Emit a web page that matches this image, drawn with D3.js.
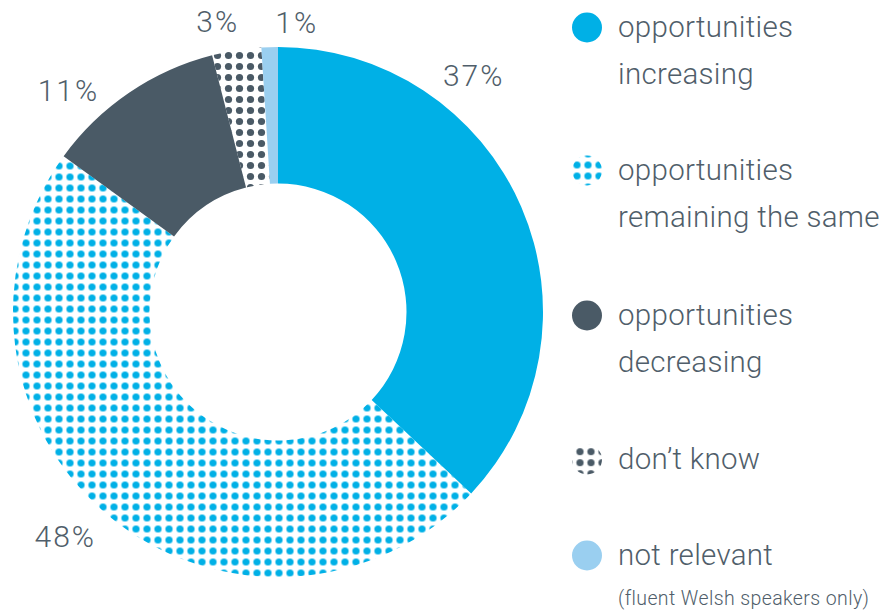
<!DOCTYPE html>
<html>
<head>
<meta charset="utf-8">
<script src="https://cdn.jsdelivr.net/npm/d3@7/dist/d3.min.js"></script>
<style>
  html, body { margin: 0; padding: 0; background: #fff; }
  svg { display: block; }
  text { font-family: Roboto, "Liberation Sans", sans-serif; font-weight: 300; fill: #505e6a; }
</style>
</head>
<body>
<svg id="chart" width="889" height="614"></svg>
<script>
// Outlook for opportunities (share of respondents, %)
const categories = [
  "opportunities increasing",
  "opportunities remaining the same",
  "opportunities decreasing",
  "don’t know",
  "not relevant"
];
const values = [37, 48, 11, 3, 1];
const valueLabels = ["37%", "48%", "11%", "3%", "1%"];
const legendLines = [
  ["opportunities", "increasing"],
  ["opportunities", "remaining the same"],
  ["opportunities", "decreasing"],
  ["don’t know"],
  ["not relevant"]
];
const legendNote = "(fluent Welsh speakers only)";

const BLUE = "#00b0e6", SLATE = "#4a5a66", LIGHT = "#9acff0";

const svg = d3.select("#chart");
const defs = svg.append("defs");

// dot-screen fills: tile of 11px with one dot
function dotPattern(id, color, ox, oy) {
  const p = defs.append("pattern")
    .attr("id", id)
    .attr("patternUnits", "userSpaceOnUse")
    .attr("width", 11).attr("height", 11)
    .attr("x", ox).attr("y", oy);
  p.append("circle").attr("cx", 5.5).attr("cy", 5.5).attr("r", 3.6).attr("fill", color);
}
dotPattern("dotsBlue", BLUE, -4.5, 2.5);
dotPattern("dotsSlate", SLATE, 0, 2);
dotPattern("dotsBlueKey", BLUE, -0.5, -5.5);
dotPattern("dotsSlateKey", SLATE, 2.5, -4.8);

const fills = [BLUE, "url(#dotsBlue)", SLATE, "url(#dotsSlate)", LIGHT];
const keyFills = [BLUE, "url(#dotsBlueKey)", SLATE, "url(#dotsSlateKey)", LIGHT];

// donut
const cx = 278, cy = 312, rOuter = 265, rInner = 128.5;
const pie = d3.pie().sort(null).value(d => d);
const arc = d3.arc().innerRadius(rInner).outerRadius(rOuter);

const g = svg.append("g").attr("transform", `translate(${cx},${cy})`);
g.selectAll("path")
  .data(pie(values))
  .join("path")
  .attr("d", arc)
  .attr("fill", (d, i) => fills[i]);

// percentage labels placed around the ring (angle in degrees clockwise from top, radius)
const labelPolar = [[39.6, 307], [223.5, 309], [316.6, 305], [348.3, 297], [3.7, 291]];
svg.append("g").selectAll("text")
  .data(valueLabels)
  .join("text")
  .attr("x", (d, i) => cx + labelPolar[i][1] * Math.sin(labelPolar[i][0] * Math.PI / 180))
  .attr("y", (d, i) => cy - labelPolar[i][1] * Math.cos(labelPolar[i][0] * Math.PI / 180) + 11)
  .attr("text-anchor", "middle")
  .attr("font-size", 30)
  .attr("letter-spacing", 2)
  .text(d => d);

// legend
const keyX = 587, textX = 618, lineGap = 47;
const firstBaselines = [37, 180, 325, 469, 565];
const legend = svg.append("g");
const items = legend.selectAll("g")
  .data(categories)
  .join("g");
items.append("circle")
  .attr("cx", keyX)
  .attr("cy", (d, i) => firstBaselines[i] - 9.5)
  .attr("r", 15)
  .attr("fill", (d, i) => keyFills[i]);
items.each(function (d, i) {
  d3.select(this).selectAll("text")
    .data(legendLines[i])
    .join("text")
    .attr("x", textX)
    .attr("y", (t, j) => firstBaselines[i] + j * lineGap)
    .attr("font-size", 29.5)
    .attr("letter-spacing", 0.3)
    .text(t => t);
});
legend.append("text")
  .attr("x", textX)
  .attr("y", 605)
  .attr("font-size", 19.5)
  .attr("letter-spacing", 0.4)
  .text(legendNote);
</script>
</body>
</html>
